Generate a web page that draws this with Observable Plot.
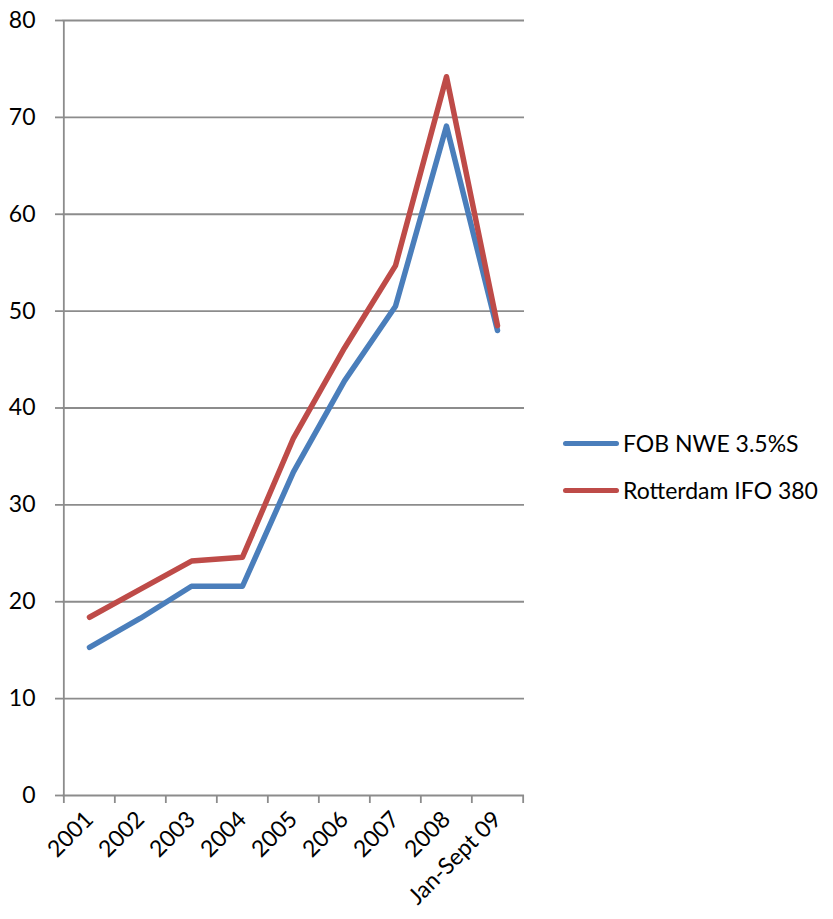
<!DOCTYPE html>
<html>
<head>
<meta charset="utf-8">
<script src="https://cdn.jsdelivr.net/npm/d3@7"></script>
<script src="https://cdn.jsdelivr.net/npm/@observablehq/plot@0.6"></script>
<style>
  body { margin: 0; background: #fff; }
  #wrap { position: relative; width: 833px; height: 919px; font-family: Lato, "Open Sans", sans-serif; }
  .leg { position: absolute; left: 563px; display: flex; align-items: center; font-size: 23px; color: #000; white-space: nowrap; }
  .leg span.sw { display: inline-block; width: 56px; height: 5px; border-radius: 3px; margin-right: 4px; }
</style>
</head>
<body>
<div id="wrap"></div>
<script>
const categories = ["2001","2002","2003","2004","2005","2006","2007","2008","Jan-Sept 09"];
const fobNWE = [15.3, 18.3, 21.6, 21.6, 33.4, 42.8, 50.5, 69.1, 48.0];
const rotterdamIFO = [18.4, 21.3, 24.2, 24.6, 36.9, 46.2, 54.7, 74.2, 48.5];
const seriesNames = ["FOB NWE 3.5%S", "Rotterdam IFO 380"];
const seriesColors = ["#4A7EBB", "#BE4B48"];
const yTicks = [0,10,20,30,40,50,60,70,80];

const rows = [];
categories.forEach((c, i) => {
  rows.push({cat: c, value: fobNWE[i], series: seriesNames[0]});
  rows.push({cat: c, value: rotterdamIFO[i], series: seriesNames[1]});
});

const W = 833, H = 919, mL = 62, mR = 309, mT = 20, mB = 124;
const step = (W - mL - mR) / categories.length;
const gridColor = "#8c8c8c";

const plot = Plot.plot({
  width: W, height: H,
  marginLeft: mL, marginRight: mR, marginTop: mT, marginBottom: mB,
  style: {fontFamily: "Lato, 'Open Sans', sans-serif", fontSize: "23px", color: "#000", background: "#fff"},
  x: {type: "point", domain: categories, padding: 0.5, align: 0.5, label: null},
  y: {domain: [0, 80], label: null},
  color: {domain: seriesNames, range: seriesColors},
  marks: [
    Plot.ruleY(yTicks, {stroke: gridColor, strokeWidth: 1.8}),
    Plot.ruleX([categories[0]], {y1: 0, y2: 80, stroke: gridColor, strokeWidth: 1.8, dx: -step/2}),
    Plot.ruleX(categories, {y1: 0, y2: 0, insetBottom: -8, stroke: gridColor, strokeWidth: 1.8, dx: -step/2}),
    Plot.ruleX([categories[categories.length-1]], {y1: 0, y2: 0, insetBottom: -8, stroke: gridColor, strokeWidth: 1.8, dx: step/2}),
    Plot.axisY(yTicks, {tickSize: 7, stroke: gridColor, strokeWidth: 1.8, tickPadding: 20, fontSize: 23, fill: "#000"}),
    Plot.axisX(categories, {tickSize: 0, tickRotate: -45, tickPadding: 20, fontSize: 23, fill: "#000"}),
    Plot.line(rows, {x: "cat", y: "value", stroke: "series", strokeWidth: 5.5, strokeLinejoin: "round", strokeLinecap: "round"})
  ]
});

const wrap = document.getElementById("wrap");
wrap.appendChild(plot);
const legTop = [443, 490];
seriesNames.forEach((n, i) => {
  const d = document.createElement("div");
  d.className = "leg";
  d.style.top = (legTop[i] - 15) + "px";
  d.style.height = "30px";
  d.innerHTML = `<span class="sw" style="background:${seriesColors[i]}"></span><span>${n}</span>`;
  wrap.appendChild(d);
});
</script>
</body>
</html>
